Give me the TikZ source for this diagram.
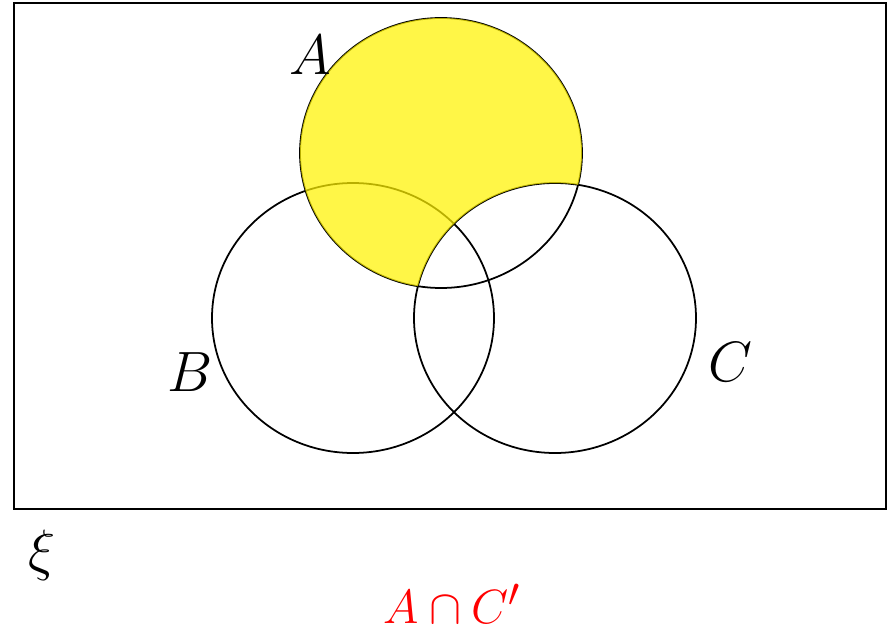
\documentclass[tikz,border=0pt]{standalone}
\usepackage{amsmath,amssymb}
\usepackage{xcolor}
\usepackage{tikz}
\usetikzlibrary{positioning}

\begin{document}
\begin{tikzpicture}[
    set/.style={draw, line width=1pt},
    shade/.style={fill=yellow, fill opacity=0.72},
    lbl/.style={font=\Huge, scale=1.3, transform shape},
    res/.style={font=\Huge, scale=1.1, transform shape, text=red}
]
\useasboundingbox (0,0) rectangle (17.8,12.66);
\coordinate (ca) at (8.82,9.60);
\coordinate (cb) at (7.06,6.30);
\coordinate (cc) at (11.10,6.30);
\draw[line width=1.2pt] (0.28,2.48) rectangle (17.72,12.60);
\draw[set] (ca) ellipse [x radius=2.82, y radius=2.70];
\draw[set] (cb) ellipse [x radius=2.82, y radius=2.70];
\draw[set] (cc) ellipse [x radius=2.82, y radius=2.70];
% A minus C
\begin{scope}
  \clip (ca) ellipse [x radius=2.82, y radius=2.70];
  \fill[shade, even odd rule] (5,5) rectangle (12,13)
      (cc) ellipse [x radius=2.82, y radius=2.70];
\end{scope}
\node[lbl] (la) at (6.20,11.56) {$A$};
\node[lbl] (lb) at (3.80,5.22) {$B$};
\node[lbl] (lc) at (14.60,5.42) {$C$};
\node[lbl] (xi) at (0.84,1.56) {$\xi$};
\node[res] (ans) at (9.04,0.58) {$A \cap C'$};
\end{tikzpicture}
\end{document}
